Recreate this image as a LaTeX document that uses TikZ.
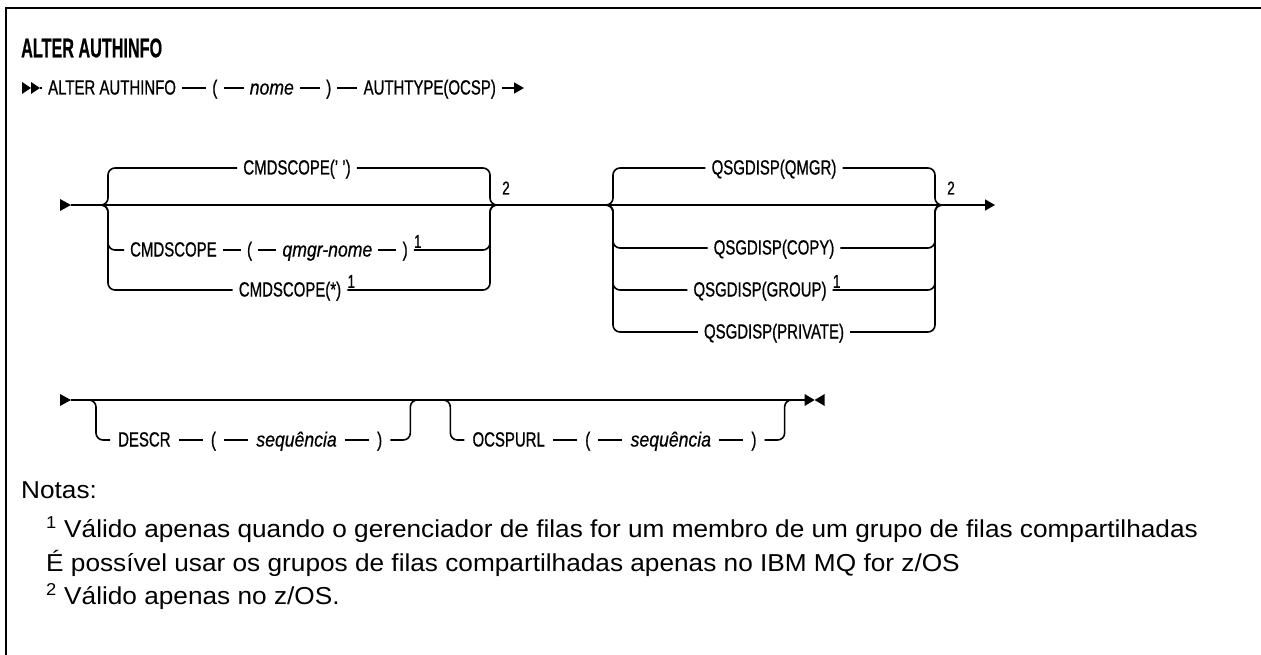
\documentclass[tikz,border=0pt]{standalone}
\usepackage{fontspec}
\setmainfont{Liberation Sans}[FakeStretch=0.73, FakeBold=0.8]
\newfontfamily\itfont{Liberation Sans}[FakeStretch=0.86, FakeBold=0.6]
\newfontfamily\titlefont{Liberation Sans}[FakeStretch=0.6, FakeBold=0.5]
\newfontfamily\notefont{Liberation Sans}[FakeStretch=1.07]
\usetikzlibrary{positioning,arrows.meta}
\tikzset{
  tx/.style={inner xsep=6pt, inner ysep=0pt, text height=14pt, text depth=1pt, font=\fontsize{20.5}{24}\selectfont},
  it/.style={tx, font=\itfont\itshape\fontsize{20.5}{24}\selectfont},
  sup/.style={inner sep=0pt, font=\fontsize{18.5}{20}\selectfont},
  ln/.style={line width=1.6pt},
  br/.style={ln, rounded corners=7pt},
  arr/.style={ln, -{Triangle[length=10pt,width=11pt]}},
  nt/.style={anchor=west, inner sep=0pt, font=\notefont\fontsize{24.5}{28}\selectfont},
  node distance=20pt
}
\begin{document}
\begin{tikzpicture}[x=1pt,y=-1pt]
\useasboundingbox (0,0) rectangle (1261,655);
% frame
\draw[line width=2.4pt] (6,655) -- (6,8) -- (1261,8);
% title
\node[anchor=west, inner sep=0pt, font=\titlefont\bfseries\fontsize{27}{30}\selectfont] (title) at (21,48) {ALTER AUTHINFO};

% ---------- row 1
\fill (22,82) -- (31,88) -- (22,94) -- cycle;
\fill (31,82) -- (40,88) -- (31,94) -- cycle;
\coordinate (s1) at (40,88);
\node[tx, anchor=west] (a1) at (42,88) {ALTER AUTHINFO};
\node[tx, right=24pt of a1] (a2) {(};
\node[it, right=of a2] (a3) {nome};
\node[tx, right=of a3] (a4) {)};
\node[tx, right=of a4] (a5) {AUTHTYPE(OCSP)};
\coordinate[right=22pt of a5] (e1);
\draw[ln] (s1) -- (a1);
\draw[ln] (a1) -- (a2);
\draw[ln] (a2) -- (a3);
\draw[ln] (a3) -- (a4);
\draw[ln] (a4) -- (a5);
\draw[arr] (a5) -- (e1);

% ---------- row 2
\fill (60,199) -- (71,205) -- (60,211) -- cycle;
\coordinate (s2) at (71,205);
\coordinate (e2) at (995,205);
\draw[arr] (s2) -- (e2);

% group 1
\coordinate (g1L) at (100,205); \coordinate (g1l) at (108,205);
\coordinate (g1r) at (490,205); \coordinate (g1R) at (498,205);
\node[tx] (c1) at (297,168) {CMDSCOPE(' ')};
\draw[br] (g1L) -| (g1l |- c1) -- (c1);
\draw[br] (c1) -| (g1r) -- (g1R);

\node[tx, anchor=west] (c2a) at (124,250) {CMDSCOPE};
\node[tx, right=18pt of c2a] (c2b) {(};
\node[it, right=18pt of c2b] (c2c) {qmgr-nome};
\node[tx, right=18pt of c2c] (c2d) {)};
\node[sup, anchor=south west] (c2n) at ([yshift=2pt]c2d.east) {1};
\draw[br] (g1L) -| (g1l |- c2a) -- (c2a);
\draw[ln] (c2a) -- (c2b);
\draw[ln] (c2b) -- (c2c);
\draw[ln] (c2c) -- (c2d);
\draw[br] (c2d) -| (g1r) -- (g1R);

\node[tx] (c3) at (290,290) {CMDSCOPE(*)};
\node[sup, anchor=south west] (c3n) at ([yshift=2pt]c3.east) {1};
\draw[br] (g1L) -| (g1l |- c3) -- (c3);
\draw[br] (c3) -| (g1r) -- (g1R);
\node[sup] (g1n) at (506,188) {2};

% group 2
\coordinate (g2L) at (605,205); \coordinate (g2l) at (613,205);
\coordinate (g2r) at (935,205); \coordinate (g2R) at (943,205);
\node[tx] (q1) at (774,168) {QSGDISP(QMGR)};
\node[tx] (q2) at (774,248) {QSGDISP(COPY)};
\node[tx] (q3) at (760,290) {QSGDISP(GROUP)};
\node[sup, anchor=south west] (q3n) at ([yshift=2pt]q3.east) {1};
\node[tx] (q4) at (774,332) {QSGDISP(PRIVATE)};
\foreach \q in {q1,q2,q3,q4}{
  \draw[br] (g2L) -| (g2l |- \q) -- (\q);
  \draw[br] (\q) -| (g2r) -- (g2R);
}
\node[sup] (g2n) at (951,188) {2};

% ---------- row 3
\begin{scope}[node distance=24pt]
\fill (60,394) -- (71,400) -- (60,406) -- cycle;
\coordinate (s3) at (71,400);
\coordinate (d1L) at (88,400); \coordinate (d1l) at (96,400);
\node[tx, inner xsep=8pt, anchor=west] (d1) at (110,440) {DESCR};
\node[tx, inner xsep=8pt, right=of d1] (d2) {(};
\node[it, inner xsep=8pt, right=of d2] (d3) {sequência};
\node[tx, inner xsep=8pt, right=of d3] (d4) {)};
\path (d4.east) ++(20,0) coordinate (d1rb);
\coordinate (d1r) at (d1rb |- s3);
\path (d1r) ++(8,0) coordinate (d1R);
\draw[br] (d1L) -| (d1l |- d1) -- (d1);
\draw[ln] (d1) -- (d2);
\draw[ln] (d2) -- (d3);
\draw[ln] (d3) -- (d4);
\draw[br] (d4) -| (d1r) -- (d1R);

\path (d1R) ++(24,0) coordinate (o1L) ++(8,0) coordinate (o1l);
\path (o1l |- d1) ++(14,0) coordinate (o1p);
\node[tx, inner xsep=8pt, anchor=west] (o1) at (o1p) {OCSPURL};
\node[tx, inner xsep=8pt, right=of o1] (o2) {(};
\node[it, inner xsep=8pt, right=of o2] (o3) {sequência};
\node[tx, inner xsep=8pt, right=of o3] (o4) {)};
\path (o4.east) ++(20,0) coordinate (o1rb);
\coordinate (o1r) at (o1rb |- s3);
\path (o1r) ++(8,0) coordinate (o1R);
\draw[br] (o1L) -| (o1l |- o1) -- (o1);
\draw[ln] (o1) -- (o2);
\draw[ln] (o2) -- (o3);
\draw[ln] (o3) -- (o4);
\draw[br] (o4) -| (o1r) -- (o1R);

\path (o1R) ++(12,0) coordinate (e3);
\draw[ln] (s3) -- (e3);
\fill (e3) ++(0,-6) -- ++(10,6) -- ++(-10,6) -- cycle;
\fill (e3) ++(20,-6) -- ++(-10,6) -- ++(10,6) -- cycle;
\end{scope}

% ---------- notes
\node[nt] (n0) at (21,490) {Notas:};
\node[nt] (n1) at (46,530) {\textsuperscript{1} Válido apenas quando o gerenciador de filas for um membro de um grupo de filas compartilhadas};
\node[nt] (n2) at (46,563) {É possível usar os grupos de filas compartilhadas apenas no IBM MQ for z/OS};
\node[nt] (n3) at (46,597) {\textsuperscript{2} Válido apenas no z/OS.};
\end{tikzpicture}
\end{document}
